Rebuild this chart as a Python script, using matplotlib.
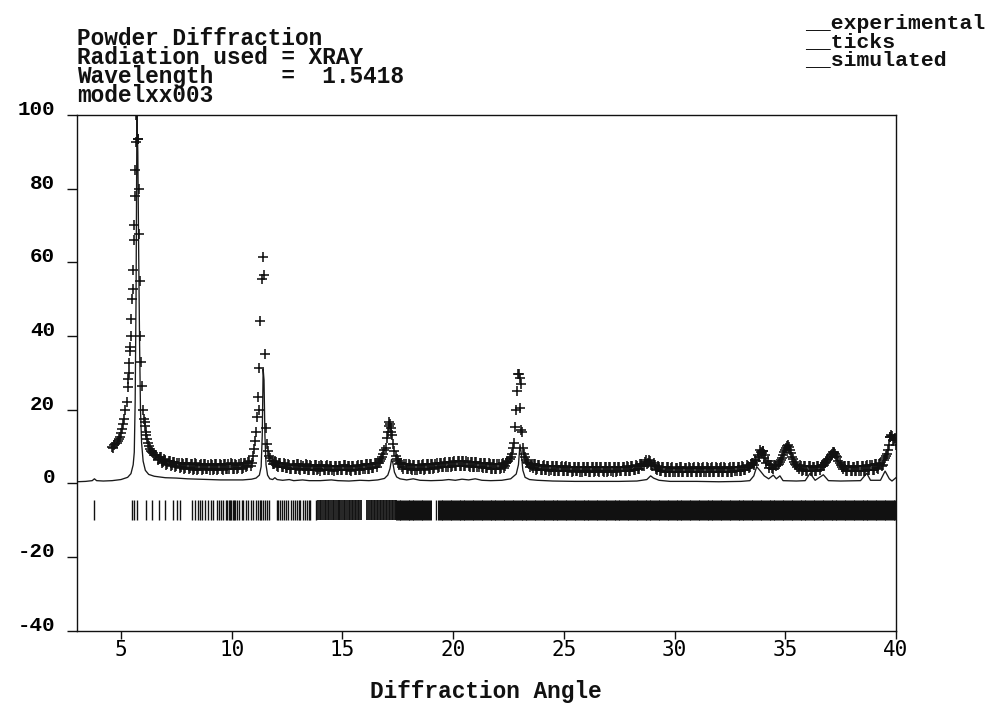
import numpy as np
import matplotlib
matplotlib.use("Agg")
import matplotlib.pyplot as plt

# ---------------- data ----------------
header_lines = ["Powder Diffraction",
                "Radiation used = XRAY",
                "Wavelength     =  1.5418",
                "modelxx003"]
legend_lines = ["__experimental", "__ticks", "__simulated"]
x_label = "Diffraction Angle"
x_ticks = [5, 10, 15, 20, 25, 30, 35, 40]
y_ticks = [-40, -20, 0, 20, 40, 60, 80, 100]

# experimental pattern: two interleaved 0.1-deg grids (4.60.. and 4.65..)
exp_start_a = 4.6
exp_start_b = 4.65
exp_step = 0.1
exp_y_a = [
    9.8, 10.3, 11.0, 12.0, 13.6, 16.2, 19.8, 26.0, 36.0, 50.0,
    70.0, 100.0, 80.0, 33.0, 20.0, 15.5, 11.0, 9.3, 8.4, 7.8,
    7.6, 6.6, 7.0, 5.8, 6.4, 5.2, 6.1, 5.0, 5.7, 4.7,
    5.6, 4.5, 5.3, 4.2, 5.4, 4.1, 5.2, 4.0, 5.3, 3.9,
    5.1, 3.8, 5.2, 4.0, 3.7, 5.0, 3.9, 5.2, 3.8, 4.9,
    3.7, 5.1, 4.0, 3.8, 5.3, 3.9, 5.0, 4.1, 5.4, 4.2,
    5.5, 4.6, 6.0, 5.6, 9.2, 13.8, 23.3, 44.0, 61.5, 35.0,
    10.6, 7.4, 6.1, 5.1, 5.8, 4.5, 5.4, 4.3, 5.2, 4.1,
    5.0, 3.8, 4.9, 4.0, 5.1, 3.7, 4.8, 3.9, 5.0, 3.6,
    4.8, 3.5, 4.9, 3.8, 3.4, 4.8, 3.6, 5.0, 3.5, 4.7,
    3.4, 4.8, 3.5, 4.6, 3.7, 4.9, 3.6, 4.7, 3.4, 4.6,
    3.6, 4.9, 3.7, 5.0, 3.8, 5.1, 4.0, 5.3, 4.2, 5.5,
    5.4, 6.0, 7.0, 9.0, 12.4, 16.5, 14.0, 10.6, 7.4, 6.0,
    5.6, 4.4, 5.3, 4.0, 5.1, 3.8, 5.0, 3.7, 4.9, 3.8,
    5.0, 3.7, 5.1, 3.9, 5.2, 4.0, 5.3, 4.2, 5.5, 4.3,
    5.6, 4.4, 5.8, 4.5, 5.9, 4.6, 6.0, 4.7, 6.1, 4.8,
    6.0, 4.7, 5.9, 4.5, 5.8, 4.4, 5.6, 4.3, 5.5, 4.2,
    5.4, 4.0, 5.3, 3.9, 5.2, 3.9, 5.3, 4.2, 5.6, 6.0,
    7.0, 9.5, 15.2, 25.0, 28.5, 14.0, 8.0, 6.4, 5.5, 5.0,
    4.1, 5.2, 3.8, 5.0, 3.7, 4.9, 3.6, 4.8, 3.5, 4.7,
    3.4, 4.7, 3.3, 4.6, 3.3, 4.6, 3.2, 4.5, 3.2, 4.5,
    3.2, 4.5, 3.1, 4.4, 3.2, 4.4, 3.1, 4.4, 3.2, 4.4,
    3.1, 4.4, 3.1, 4.3, 3.2, 4.4, 3.1, 4.3, 3.2, 4.4,
    3.2, 4.4, 3.3, 4.5, 3.4, 4.6, 3.5, 4.8, 3.8, 5.1,
    4.8, 6.2, 5.6, 6.0, 4.6, 5.0, 3.7, 4.5, 3.3, 4.4,
    3.1, 4.3, 3.0, 4.3, 3.0, 4.2, 3.0, 4.3, 3.0, 4.2,
    3.0, 4.2, 3.0, 4.3, 3.0, 4.2, 3.1, 4.3, 3.0, 4.2,
    3.1, 4.3, 3.0, 4.2, 3.1, 4.3, 3.0, 4.2, 3.1, 4.3,
    3.1, 4.3, 3.2, 4.4, 3.3, 4.5, 3.5, 4.8, 4.3, 5.6,
    5.0, 6.0, 7.2, 8.4, 8.8, 7.6, 6.0, 5.0, 4.1, 5.0,
    4.8, 5.3, 6.2, 7.6, 9.0, 10.1, 9.0, 7.2, 5.8, 5.0,
    4.0, 4.8, 3.5, 4.6, 3.3, 4.6, 3.2, 4.5, 3.3, 4.7,
    4.4, 4.8, 5.4, 6.2, 7.2, 8.0, 8.3, 7.5, 6.1, 5.0,
    3.8, 4.7, 3.3, 4.6, 3.2, 4.5, 3.2, 4.6, 3.3, 4.7,
    3.4, 4.9, 3.5, 5.0, 3.6, 5.1, 3.9, 5.5, 5.0, 6.9,
    8.0, 10.5, 12.9, 12.0, 10.5,
]
exp_y_b = [
    9.5, 10.6, 11.4, 12.6, 14.8, 17.5, 22.0, 30.0, 40.0, 58.0,
    85.0, 93.5, 55.0, 26.4, 17.5, 13.0, 10.2, 8.8, 8.1, 7.6,
    6.3, 7.2, 5.5, 6.6, 4.9, 6.0, 4.6, 5.8, 4.3, 5.5,
    4.2, 5.4, 3.9, 5.5, 3.8, 5.1, 3.7, 5.4, 3.6, 5.0,
    3.6, 5.3, 3.8, 5.0, 5.2, 3.7, 5.3, 3.6, 5.1, 3.8,
    5.2, 3.9, 5.1, 5.4, 3.8, 5.2, 3.9, 5.3, 4.0, 5.5,
    4.3, 5.8, 4.8, 7.4, 11.5, 17.9, 31.2, 55.5, 56.5, 15.1,
    8.8, 6.8, 5.2, 6.0, 4.6, 5.6, 4.4, 5.4, 4.2, 5.2,
    3.9, 5.0, 3.8, 5.2, 3.9, 5.0, 3.8, 5.1, 3.7, 4.9,
    3.7, 4.9, 3.6, 4.7, 4.9, 3.5, 4.8, 3.6, 4.8, 3.5,
    4.7, 3.6, 4.8, 3.5, 4.9, 3.6, 4.8, 3.5, 4.7, 3.5,
    4.8, 3.7, 5.0, 3.8, 5.1, 4.0, 5.2, 4.1, 5.4, 4.4,
    5.6, 6.5, 7.9, 9.7, 13.8, 16.0, 13.0, 8.8, 6.5, 5.2,
    5.5, 3.9, 5.2, 3.8, 5.0, 3.6, 4.9, 3.7, 5.0, 3.8,
    5.1, 3.9, 5.2, 4.0, 5.3, 4.1, 5.4, 4.3, 5.6, 4.4,
    5.7, 4.5, 5.9, 4.6, 6.0, 4.7, 6.1, 4.8, 6.0, 4.6,
    5.9, 4.5, 5.8, 4.4, 5.7, 4.3, 5.5, 4.2, 5.4, 4.1,
    5.3, 4.0, 5.2, 3.9, 5.3, 4.1, 5.4, 4.6, 5.8, 6.5,
    8.0, 11.0, 20.0, 29.6, 27.0, 9.5, 7.0, 5.8, 4.5, 5.2,
    5.1, 3.7, 4.9, 3.6, 4.8, 3.5, 4.7, 3.4, 4.6, 3.3,
    4.6, 3.3, 4.5, 3.2, 4.5, 3.2, 4.4, 3.1, 4.4, 3.2,
    4.4, 3.1, 4.4, 3.2, 4.3, 3.1, 4.3, 3.1, 4.4, 3.2,
    4.3, 3.2, 4.3, 3.1, 4.4, 3.2, 4.3, 3.1, 4.4, 3.2,
    4.5, 3.3, 4.6, 3.4, 4.7, 3.6, 4.9, 4.0, 5.3, 4.6,
    5.9, 5.2, 6.3, 4.9, 5.4, 4.0, 4.6, 3.2, 4.4, 3.1,
    4.3, 3.0, 4.2, 3.0, 4.2, 3.0, 4.3, 3.0, 4.2, 3.0,
    4.3, 3.0, 4.2, 3.1, 4.3, 3.0, 4.2, 3.0, 4.3, 3.1,
    4.2, 3.0, 4.3, 3.1, 4.2, 3.0, 4.3, 3.1, 4.2, 3.1,
    4.3, 3.2, 4.4, 3.3, 4.6, 3.6, 4.9, 4.2, 5.2, 5.5,
    6.4, 7.8, 9.0, 8.2, 6.8, 5.4, 4.2, 5.0, 4.0, 4.9,
    5.0, 5.8, 6.8, 8.4, 9.6, 9.8, 8.2, 6.5, 5.3, 4.3,
    4.9, 3.4, 4.7, 3.3, 4.6, 3.2, 4.5, 3.3, 4.6, 3.7,
    4.9, 5.0, 5.8, 6.7, 7.8, 8.4, 8.0, 7.0, 5.5, 4.4,
    4.8, 3.4, 4.6, 3.2, 4.5, 3.2, 4.6, 3.3, 4.7, 3.4,
    4.8, 3.5, 5.0, 3.7, 5.2, 4.1, 5.3, 4.6, 6.2, 7.4,
    9.0, 12.5, 11.8, 12.2,
]
# a few more measured points on the steep peak flanks
peak_x = [5.32, 5.37, 5.42, 5.47, 5.53, 5.58, 5.62, 5.68, 5.77, 5.81,
          5.86, 6.07, 6.12, 6.18, 11.22, 17.12, 17.18, 22.98, 23.02, 23.08,
          33.98, 35.12, 37.22, 39.72, 39.78]
peak_y = [28.3, 32.6, 37.0, 44.6, 52.7, 66.0, 78.0, 92.7, 93.5, 67.7,
          40.0, 16.6, 13.8, 12.0, 20.0, 15.5, 15.1, 29.6, 20.3, 14.5,
          8.8, 10.3, 8.4, 12.5, 13.0]

# simulated pattern
sim_x = [3.0, 3.4, 3.7, 3.8, 3.9, 4.2, 4.6, 5.0, 5.3, 5.45,
         5.55, 5.6, 5.64, 5.68, 5.72, 5.76, 5.8, 5.84, 5.88, 5.93,
         6.0, 6.1, 6.25, 6.5, 7.0, 7.5, 8.0, 8.5, 9.0, 9.5,
         10.0, 10.5, 10.9, 11.1, 11.25, 11.33, 11.38, 11.42, 11.46, 11.5,
         11.55, 11.62, 11.72, 11.85, 11.95, 12.05, 12.3, 12.6, 12.8, 13.2,
         13.5, 14.0, 14.5, 14.8, 15.3, 15.8, 16.2, 16.6, 16.9, 17.05,
         17.15, 17.22, 17.28, 17.35, 17.45, 17.6, 17.9, 18.2, 18.5, 19.0,
         19.5, 19.8, 20.1, 20.4, 20.7, 21.0, 21.3, 21.7, 22.2, 22.6,
         22.85, 22.95, 23.02, 23.08, 23.15, 23.25, 23.45, 23.8, 24.5, 25.5,
         26.5, 27.5, 28.3, 28.75, 28.92, 29.05, 29.3, 29.8, 31.0, 32.0,
         33.0, 33.4, 33.58, 33.71, 33.85, 34.05, 34.25, 34.46, 34.6, 34.76,
         34.9, 35.5, 35.9, 36.12, 36.35, 36.72, 36.95, 37.5, 38.4, 38.68,
         38.85, 39.3, 39.51, 39.7, 39.82, 40.0]
sim_y = [0.4, 0.5, 0.7, 1.2, 0.7, 0.6, 0.7, 1.0, 1.6, 2.6,
         5.0, 8.4, 22.0, 50.0, 100.0, 90.0, 62.0, 38.0, 20.0, 11.0,
         6.0, 3.5, 2.4, 1.9, 1.5, 1.4, 1.2, 1.1, 1.0, 0.9,
         0.9, 0.9, 1.1, 1.4, 2.2, 4.5, 13.0, 31.0, 28.0, 13.0,
         5.0, 2.2, 1.2, 1.0, 1.5, 1.0, 0.8, 1.0, 0.7, 0.9,
         0.7, 0.7, 0.9, 0.7, 0.6, 0.8, 0.7, 0.9, 1.3, 2.2,
         4.0, 6.5, 5.5, 3.0, 1.7, 1.2, 0.9, 1.2, 0.8, 0.7,
         0.8, 1.0, 0.8, 1.1, 0.9, 1.2, 0.8, 0.7, 0.8, 1.2,
         2.5, 5.0, 10.5, 8.0, 3.5, 1.6, 1.0, 0.8, 0.6, 0.5,
         0.5, 0.5, 0.6, 1.0, 2.0, 1.4, 0.8, 0.5, 0.5, 0.4,
         0.5, 0.7, 2.0, 4.5, 3.5, 2.0, 1.2, 2.2, 1.2, 2.0,
         0.7, 0.6, 0.7, 2.7, 0.8, 2.3, 0.7, 0.6, 0.7, 2.7,
         0.8, 0.8, 3.3, 1.2, 0.6, 1.5]

# reflection tick positions
ticks_sparse = [3.78, 5.48, 5.60, 5.74, 6.13, 6.42, 6.72, 7.00, 7.36, 7.52,
                7.67, 8.19, 8.33, 8.48, 8.57, 8.66, 8.79, 8.92, 9.05, 9.14,
                9.32, 9.44, 9.53, 9.62, 9.74, 9.80, 9.86, 9.92, 9.98, 10.04,
                10.10, 10.16, 10.23, 10.35, 10.46, 10.53, 10.63, 10.72, 10.86, 10.97,
                11.08, 11.19, 11.26, 11.33, 11.41, 11.52, 11.60, 11.70, 12.03, 12.10,
                12.17, 12.25, 12.37, 12.46, 12.55, 12.66, 12.75, 12.84, 12.95, 13.03,
                13.10, 13.24, 13.32, 13.40, 13.48, 13.54, 13.79, 19.22]
ticks_mid = [13.91, 13.98, 14.05, 14.12, 14.20, 14.26, 14.33, 14.40, 14.50, 14.56,
             14.62, 14.70, 14.78, 14.84, 14.90, 15.00, 15.06, 15.12, 15.20, 15.28,
             15.35, 15.42, 15.50, 15.56, 15.62, 15.70, 15.76, 15.82, 16.12, 16.20,
             16.28, 16.35, 16.42, 16.48, 16.55, 16.62, 16.70, 16.76, 16.82, 16.90,
             16.96, 17.02, 17.10, 17.16, 17.22, 17.30, 17.36, 17.42]
ticks_dense = [17.5, 17.7, 17.9, 18.1, 18.3, 18.5, 18.7, 18.9, 19.4, 19.6,
               19.8, 20.0, 20.2, 20.4, 20.6, 20.8, 21.0, 21.2, 21.4, 21.6,
               21.8, 22.0, 22.2, 22.4, 22.6, 22.8, 23.0, 23.2, 23.4, 23.6,
               23.8, 24.0, 24.2, 24.4, 24.6, 24.8, 25.0, 25.2, 25.4, 25.6,
               25.8, 26.0, 26.2, 26.4, 26.6, 26.8, 27.0, 27.2, 27.4, 27.6,
               27.8, 28.0, 28.2, 28.4, 28.6, 28.8, 29.0, 29.2, 29.4, 29.6,
               29.8, 30.0, 30.2, 30.4, 30.6, 30.8, 31.0, 31.2, 31.4, 31.6,
               31.8, 32.0, 32.2, 32.4, 32.6, 32.8, 33.0, 33.2, 33.4, 33.6,
               33.8, 34.0, 34.2, 34.4, 34.6, 34.8, 35.0, 35.2, 35.4, 35.6,
               35.8, 36.0, 36.2, 36.4, 36.6, 36.8, 37.0, 37.2, 37.4, 37.6,
               37.8, 38.0, 38.2, 38.4, 38.6, 38.8, 39.0, 39.2, 39.4, 39.6,
               39.8, 40.0]
tick_top = -4.5
tick_bottom = -10.0

# ---------------- drawing ----------------
MONO = ["Liberation Mono", "DejaVu Sans Mono"]
plt.rcParams["font.family"] = MONO
plt.rcParams["font.weight"] = "bold"
INK = "#111111"

fig = plt.figure(figsize=(9.91, 7.03), dpi=100)
ax = fig.add_axes([0.0774, 0.1031, 0.8267, 0.7333])

exp_x_a = exp_start_a + exp_step * np.arange(len(exp_y_a))
exp_x_b = exp_start_b + exp_step * np.arange(len(exp_y_b))
all_x = np.concatenate([exp_x_a, exp_x_b, peak_x])
all_y = np.concatenate([exp_y_a, exp_y_b, peak_y])

ax.plot(sim_x, sim_y, color="#1a1a1a", lw=0.95, zorder=2)
ax.plot(all_x, all_y, ls="none", marker="+", ms=7.5, mew=1.15,
        color=INK, zorder=3)
ax.vlines(ticks_sparse, tick_bottom, tick_top, color=INK, lw=1.0)
ax.vlines(ticks_mid, tick_bottom, tick_top, color=INK, lw=1.3)
ax.vlines(ticks_dense, tick_bottom, tick_top, color=INK, lw=3.6)

ax.set_xlim(3, 40)
ax.set_ylim(-40, 100)
ax.set_xticks(x_ticks)
ax.set_yticks(y_ticks)
ax.set_yticklabels([str(v) for v in y_ticks], fontsize=15, fontweight="bold",
                   family=MONO)
ax.set_xticklabels([str(v) for v in x_ticks], fontsize=15, fontweight="normal",
                   family=["DejaVu Sans Mono"])
for lbl in ax.get_yticklabels():
    lbl.set_verticalalignment("baseline")
ax.tick_params(axis="y", direction="out", length=7.5, width=1.0, pad=8,
               color=INK)
ax.tick_params(axis="x", direction="out", length=5.5, width=1.0, pad=1.5,
               color=INK)
for s in ax.spines.values():
    s.set_linewidth(1.0)
    s.set_color(INK)

# multi-line texts: va="baseline" anchors the baseline of the last line
fig.text(77 / 991, 1 - 102.3 / 703, "\n".join(header_lines), fontsize=16.4,
         fontweight="bold", family=MONO, va="baseline", ha="left",
         linespacing=0.79, color=INK)
fig.text(805 / 991, 1 - 65.0 / 703, "\n".join(legend_lines), fontsize=15.4,
         fontweight="bold", family=MONO, va="baseline", ha="left",
         linespacing=0.92, color=INK)
fig.text(486 / 991, 1 - 698 / 703, x_label, fontsize=16.4, fontweight="bold",
         family=MONO, va="baseline", ha="center", color=INK)

fig.savefig("out.png", dpi=100)
